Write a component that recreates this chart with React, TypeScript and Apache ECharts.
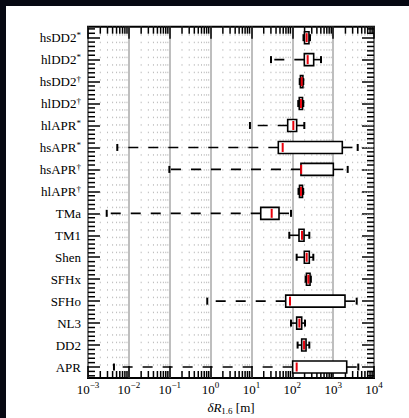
import React, { useEffect, useRef } from "react";
import * as echarts from "echarts";

const categories = ["hsDD2*", "hlDD2*", "hsDD2†", "hlDD2†", "hlAPR*", "hsAPR*", "hsAPR†", "hlAPR†", "TMa", "TM1", "Shen", "SFHx", "SFHo", "NL3", "DD2", "APR"];
const mins = [188, 30.1, 152, 140, 9.2, 0.00521, 0.098, 142, 0.00287, 84.5, 128, 212, 0.83, 93, 135, 0.00432];
const q1s = [199, 197, 158, 148, 77.2, 45.5, 163, 150, 16.9, 146, 197, 222, 69, 128, 170, 102];
const medians = [225, 238, 170, 163, 106, 58.2, 165, 163, 31.3, 173, 225, 247, 88, 149, 194, 128];
const q3s = [256, 334, 182, 178, 128, 1675, 1010, 178, 47.3, 194, 261, 272, 1950, 170, 217, 2150];
const maxs = [271, 505, 186, 186, 197, 3990, 2270, 185, 93, 261, 327, 285, 3770, 205, 261, 4130];
const xMin = 0.001;
const xMax = 10000;
const minorMultipliers = [2, 3, 4, 5, 6, 7, 8, 9];
const decadeExponents = [-3, -2, -1, 0, 1, 2, 3];

const SERIF = "'Liberation Serif', 'DejaVu Serif', serif";

export default function App() {
  const ref = useRef<HTMLDivElement>(null);
  useEffect(() => {
    if (!ref.current) return;
    const chart = echarts.init(ref.current, undefined, { renderer: "svg" });
    const boxData = categories.map((_, i) => [i, mins[i], q1s[i], medians[i], q3s[i], maxs[i]]);
    const minorXs: number[] = [];
    decadeExponents.forEach((e) => minorMultipliers.forEach((m) => minorXs.push(m * Math.pow(10, e))));

    const yLabelFmt = (v: string) => {
      const last = v.slice(-1);
      if (last === "*" || last === "†") return `{b|${v.slice(0, -1)}}{s|${last}}`;
      return `{b|${v}}`;
    };
    const yRich = {
      b: { fontSize: 13, fontFamily: SERIF, color: "#000", lineHeight: 14 },
      s: { fontSize: 9, fontFamily: SERIF, color: "#000", lineHeight: 10, verticalAlign: "top" },
    };

    const option: any = {
      animation: false,
      backgroundColor: "#ffffff",
      grid: {
        left: 82,
        top: 20.7,
        right: 35,
        bottom: 40,
        show: true,
        borderColor: "#000",
        borderWidth: 2,
        backgroundColor: "transparent",
        outerBoundsMode: "none",
      },
      xAxis: [
        {
          type: "log",
          logBase: 10,
          min: xMin,
          max: xMax,
          splitNumber: 7,
          position: "bottom",
          axisLine: { show: false },
          axisTick: { show: true, inside: true, length: 12, lineStyle: { color: "#000", width: 1.5 } },
          splitLine: { show: true, lineStyle: { color: "#a8a8a8", width: 1.5 } },
          axisLabel: {
            margin: 2,
            formatter: (v: number) => {
              const e = Math.round(Math.log10(v));
              return `{b|10}{s|${e < 0 ? "−" + -e : e}}`;
            },
            rich: {
              b: { fontSize: 13, fontFamily: SERIF, color: "#000", lineHeight: 16, verticalAlign: "bottom" },
              s: { fontSize: 9, fontFamily: SERIF, color: "#000", lineHeight: 9, verticalAlign: "top" },
            },
          },
          name: "{i|δR}{s|1.6}{n| [m]}",
          nameLocation: "middle",
          nameGap: 17,
          nameTextStyle: {
            rich: {
              i: { fontSize: 13, fontFamily: SERIF, fontStyle: "italic", color: "#000", lineHeight: 15, verticalAlign: "top" },
              s: { fontSize: 9, fontFamily: SERIF, color: "#000", lineHeight: 10, verticalAlign: "bottom" },
              n: { fontSize: 13, fontFamily: SERIF, color: "#000", lineHeight: 15, verticalAlign: "top" },
            },
          },
        },
        {
          type: "log",
          logBase: 10,
          min: xMin,
          max: xMax,
          splitNumber: 7,
          position: "top",
          axisLine: { show: false },
          axisTick: { show: true, inside: true, length: 12, lineStyle: { color: "#000", width: 1.5 } },
          splitLine: { show: false },
          axisLabel: { show: false },
        },
      ],
      yAxis: [
        {
          type: "category",
          data: categories,
          inverse: true,
          position: "left",
          axisLine: { show: false },
          axisTick: { show: true, inside: true, alignWithLabel: true, length: 12, lineStyle: { color: "#000", width: 1.5 } },
          splitLine: { show: false },
          axisLabel: { margin: 7, formatter: yLabelFmt, rich: yRich },
        },
        {
          type: "category",
          data: categories,
          inverse: true,
          position: "right",
          axisLine: { show: false },
          axisTick: { show: true, inside: true, alignWithLabel: true, length: 12, lineStyle: { color: "#000", width: 1.5 } },
          splitLine: { show: false },
          axisLabel: { show: false },
        },
      ],
      series: [
        {
          type: "custom",
          name: "frame",
          xAxisIndex: 0,
          yAxisIndex: 0,
          silent: true,
          z: 1,
          data: [[1, 0]],
          encode: { x: 0, y: 1 },
          renderItem: (params: any, api: any) => {
            const cs = params.coordSys;
            const top = cs.y;
            const bottom = cs.y + cs.height;
            const left = cs.x;
            const right = cs.x + cs.width;
            const children: any[] = [];
            minorXs.forEach((v) => {
              const x = api.coord([v, 0])[0];
              children.push({
                type: "line",
                shape: { x1: x, y1: top, x2: x, y2: bottom },
                style: { stroke: "#bdbdbd", lineWidth: 1, lineDash: [1.5, 6] },
              });
              children.push({
                type: "line",
                shape: { x1: x, y1: top, x2: x, y2: top + 7 },
                style: { stroke: "#000", lineWidth: 1.5 },
              });
              children.push({
                type: "line",
                shape: { x1: x, y1: bottom, x2: x, y2: bottom - 7 },
                style: { stroke: "#000", lineWidth: 1.5 },
              });
            });
            const yA = api.coord([1, 0])[1];
            const yB = api.coord([1, 1])[1];
            const step = yB - yA;
            for (let i = -1; i < categories.length; i++) {
              for (let j = 1; j <= 4; j++) {
                const y = yA + (i + j / 5) * step;
                if (y < top + 1 || y > bottom - 1) continue;
                children.push({
                  type: "line",
                  shape: { x1: left, y1: y, x2: left + 7, y2: y },
                  style: { stroke: "#000", lineWidth: 1.5 },
                });
                children.push({
                  type: "line",
                  shape: { x1: right, y1: y, x2: right - 7, y2: y },
                  style: { stroke: "#000", lineWidth: 1.5 },
                });
              }
            }
            return { type: "group", children };
          },
        },
        {
          type: "custom",
          name: "boxes",
          xAxisIndex: 0,
          yAxisIndex: 0,
          silent: true,
          z: 3,
          data: boxData,
          encode: { y: 0, x: [1, 2, 3, 4, 5] },
          renderItem: (params: any, api: any) => {
            const idx = api.value(0);
            const pMin = api.coord([api.value(1), idx]);
            const pQ1 = api.coord([api.value(2), idx]);
            const pMed = api.coord([api.value(3), idx]);
            const pQ3 = api.coord([api.value(4), idx]);
            const pMax = api.coord([api.value(5), idx]);
            const y = pMed[1];
            const bh = 12;
            const ch = 7;
            return {
              type: "group",
              children: [
                {
                  type: "line",
                  shape: { x1: pQ1[0], y1: y, x2: pMin[0], y2: y },
                  style: { stroke: "#000", lineWidth: 1.6, lineDash: [10, 10] },
                },
                {
                  type: "line",
                  shape: { x1: pQ3[0], y1: y, x2: pMax[0], y2: y },
                  style: { stroke: "#000", lineWidth: 1.6, lineDash: [10, 10] },
                },
                {
                  type: "line",
                  shape: { x1: pMin[0], y1: y - ch / 2, x2: pMin[0], y2: y + ch / 2 },
                  style: { stroke: "#000", lineWidth: 2 },
                },
                {
                  type: "line",
                  shape: { x1: pMax[0], y1: y - ch / 2, x2: pMax[0], y2: y + ch / 2 },
                  style: { stroke: "#000", lineWidth: 2 },
                },
                {
                  type: "rect",
                  shape: { x: pQ1[0], y: y - bh / 2, width: pQ3[0] - pQ1[0], height: bh },
                  style: { fill: "#fff", stroke: "#000", lineWidth: 1.6 },
                },
                {
                  type: "line",
                  shape: { x1: pMed[0], y1: y - 4.5, x2: pMed[0], y2: y + 4.5 },
                  style: { stroke: "#e8000b", lineWidth: 2 },
                },
              ],
            };
          },
        },
      ],
    };
    chart.setOption(option);
    return () => chart.dispose();
  }, []);

  return (
    <div style={{ position: "fixed", left: 0, top: 0, width: 409, height: 418, background: "#060812" }}>
      <div ref={ref} style={{ position: "absolute", left: 6, top: 6, width: 403, height: 412, background: "#fff" }} />
    </div>
  );
}
